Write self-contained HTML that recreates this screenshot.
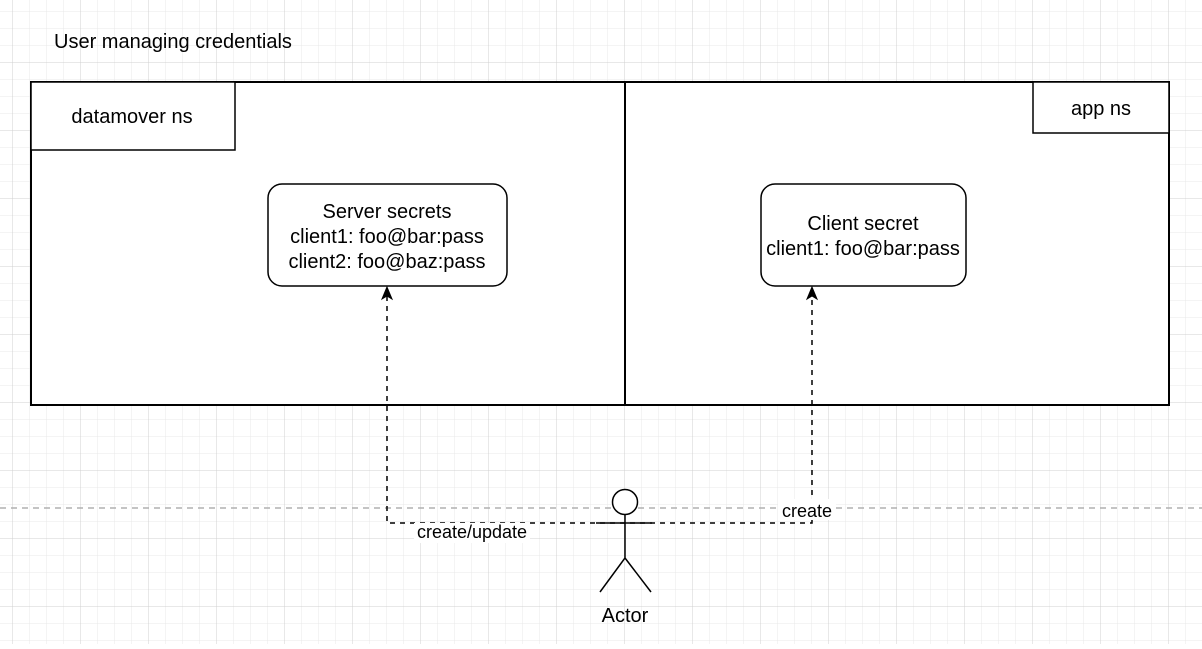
<!DOCTYPE html>
<html><head><style>
body{margin:0;width:1202px;height:644px;overflow:hidden;background:#fff;font-family:"Liberation Sans",Arial,sans-serif}
</style></head><body>
<svg width="1202" height="644" xmlns="http://www.w3.org/2000/svg" font-family="Liberation Sans, Arial, sans-serif">
<defs>
<pattern id="minor" x="12" y="-6" width="17" height="17" patternUnits="userSpaceOnUse">
<path d="M0 0V17M0 0H17" stroke="#e9e9e9" stroke-width="1" fill="none"/></pattern>
<pattern id="major" x="12" y="-6" width="68" height="68" patternUnits="userSpaceOnUse">
<path d="M0 0V68M0 0H68" stroke="#d0d0d0" stroke-width="1" fill="none"/></pattern>
</defs>
<rect width="1202" height="644" fill="url(#minor)"/>
<rect width="1202" height="644" fill="url(#major)"/>
<text x="54" y="48" font-size="20">User managing credentials</text>
<rect x="31" y="82" width="1138" height="323" fill="#fff" stroke="#000" stroke-width="2"/>
<line x1="625" y1="82" x2="625" y2="405" stroke="#000" stroke-width="2"/>
<rect x="31" y="82" width="204" height="68" fill="#fff" stroke="#000" stroke-width="1.5"/>
<text x="132" y="123" font-size="20" text-anchor="middle">datamover ns</text>
<rect x="1033" y="82" width="136" height="51" fill="#fff" stroke="#000" stroke-width="1.5"/>
<text x="1101" y="115" font-size="20" text-anchor="middle">app ns</text>
<rect x="268" y="184" width="239" height="102" rx="14" fill="#fff" stroke="#000" stroke-width="1.5"/>
<text font-size="20" text-anchor="middle"><tspan x="387" y="218">Server secrets</tspan><tspan x="387" y="243">client1: foo@bar:pass</tspan><tspan x="387" y="268">client2: foo@baz:pass</tspan></text>
<rect x="761" y="184" width="205" height="102" rx="14" fill="#fff" stroke="#000" stroke-width="1.5"/>
<text font-size="20" text-anchor="middle"><tspan x="863" y="230">Client secret</tspan><tspan x="863" y="255">client1: foo@bar:pass</tspan></text>
<line x1="0" y1="508" x2="1202" y2="508" stroke="#b0b0b0" stroke-width="1.5" stroke-dasharray="6,5"/>
<path d="M387 296V523H812V296" fill="none" stroke="#000" stroke-width="1.5" stroke-dasharray="5,5"/>
<path d="M387 287L382 299L387 296L392 299Z M812 287L807 299L812 296L817 299Z" fill="#000" stroke="#000"/>
<rect x="414" y="523" width="116" height="20" fill="#fff"/>
<text x="472" y="538" font-size="18" text-anchor="middle">create/update</text>
<rect x="778" y="499" width="58" height="21" fill="#fff"/>
<text x="807" y="517" font-size="18" text-anchor="middle">create</text>
<circle cx="625" cy="502" r="12.5" fill="#fff" stroke="#000" stroke-width="1.5"/>
<path d="M596 523H652M625 515V558L600 592M625 558L651 592" fill="none" stroke="#000" stroke-width="1.5"/>
<text x="625" y="622" font-size="20" text-anchor="middle">Actor</text>
</svg>
</body></html>
